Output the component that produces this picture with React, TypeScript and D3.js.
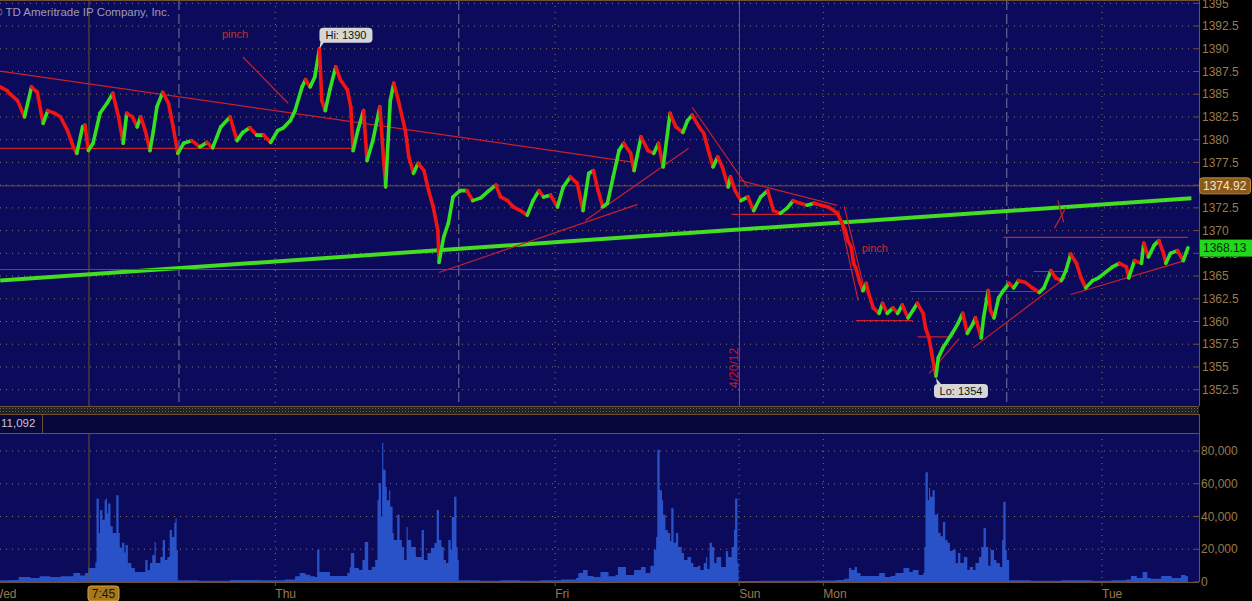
import * as d3 from "d3";

// hours since Wed 00:00 on the chart's compressed session clock
const priceHours = [
  0.1, 0.7, 0.9, 1.6, 2.2, 2.8, 3.3, 3.8, 4.2, 4.8, 5.3, 5.9, 6.4, 6.7, 7.2, 7.4, 7.7, 8.1, 8.7, 9.3,
  9.8, 10.3, 10.7, 11.0, 11.5, 11.9, 12.2, 12.6, 13.0, 13.3, 13.6, 14.1, 14.6, 15.0, 15.4, 15.9, 16.6, 17.3, 17.9, 18.4,
  19.1, 19.9, 20.5, 21.0, 21.6, 22.2, 22.8, 23.4, 24.0, 24.5, 25.1, 25.5, 26.1, 26.4, 26.8, 27.2, 27.6, 27.8, 28.1, 28.5,
  29.0, 29.4, 30.0, 30.3, 30.5, 30.9, 31.4, 31.7, 32.2, 32.8, 33.3, 33.7, 34.0, 34.4, 35.0, 35.3, 35.7, 36.1, 36.6, 37.0,
  37.4, 37.8, 37.9, 38.3, 38.7, 39.1, 39.7, 40.3, 40.8, 41.5, 42.2, 42.8, 43.2, 43.8, 44.3, 44.9, 45.5, 46.0, 46.5, 46.9,
  47.5, 48.1, 48.6, 49.2, 49.8, 50.3, 50.8, 51.2, 51.6, 52.0, 52.4, 52.9, 53.4, 53.8, 54.4, 54.7, 55.3, 55.9, 56.4, 56.8,
  57.2, 57.8, 58.3, 58.9, 59.3, 59.7, 60.3, 60.7, 61.1, 61.5, 61.9, 62.3, 62.8, 63.0, 63.4, 63.9, 64.5, 65.0, 65.6, 66.2,
  66.7, 67.3, 67.9, 68.4, 69.0, 69.6, 70.2, 70.8, 71.4, 71.9, 72.2, 72.5, 72.9, 73.1, 73.4, 73.6, 73.8, 74.1, 74.4, 74.7,
  74.9, 75.3, 75.8, 76.1, 76.5, 77.0, 77.4, 77.8, 78.3, 78.7, 79.1, 79.6, 79.8, 80.1, 80.4, 80.7, 80.9, 81.3, 81.7, 82.1,
  82.6, 83.0, 83.4, 83.9, 84.1, 84.6, 84.8, 85.2, 85.4, 85.7, 86.1, 86.5, 87.0, 87.4, 87.8, 88.4, 89.0, 89.6, 90.0, 90.6,
  91.0, 91.5, 91.9, 92.3, 92.8, 93.2, 93.6, 94.2, 94.7, 95.3, 95.9, 96.5, 97.1, 97.3, 97.8, 98.4, 98.6, 99.0, 99.5, 99.9,
  100.3, 100.5, 100.9, 101.5, 102.0, 102.4
];

const priceValues = [
  1385.8, 1385.4, 1385.1, 1384.3, 1382.5, 1385.8, 1385.2, 1381.8, 1383.2, 1382.9, 1382.5, 1381.0, 1379.2, 1378.5, 1381.4, 1381.6, 1378.8, 1379.6, 1382.9, 1384.0,
  1385.1, 1382.5, 1379.6, 1382.9, 1382.5, 1381.4, 1382.5, 1381.0, 1378.8, 1381.0, 1383.6, 1385.2, 1384.0, 1381.4, 1378.5, 1379.6, 1379.9, 1379.2, 1379.7, 1379.1,
  1381.4, 1382.5, 1379.9, 1380.8, 1381.3, 1380.5, 1380.5, 1379.7, 1381.0, 1381.3, 1382.1, 1383.2, 1385.8, 1386.6, 1385.8, 1386.9, 1390.0, 1384.3, 1383.2, 1385.5,
  1388.0, 1386.6, 1385.5, 1383.6, 1378.8, 1381.0, 1383.2, 1377.7, 1379.9, 1383.6, 1374.8, 1384.3, 1386.2, 1384.3, 1381.0, 1378.1, 1376.3, 1377.4, 1376.6, 1374.4,
  1372.6, 1370.0, 1366.5, 1369.3, 1370.8, 1373.7, 1374.4, 1374.4, 1373.3, 1373.6, 1374.4, 1375.0, 1373.7, 1373.3, 1372.6, 1372.2, 1371.7, 1373.3, 1374.4, 1373.7,
  1373.9, 1372.6, 1374.8, 1375.9, 1375.2, 1372.2, 1376.3, 1376.6, 1374.4, 1372.6, 1373.0, 1375.9, 1378.8, 1379.6, 1378.5, 1376.6, 1380.3, 1378.8, 1378.5, 1379.6,
  1377.0, 1382.9, 1381.4, 1380.8, 1382.1, 1382.7, 1381.4, 1380.7, 1378.8, 1377.0, 1378.1, 1377.0, 1374.8, 1375.9, 1374.4, 1373.3, 1373.7, 1372.2, 1373.7, 1374.4,
  1372.2, 1371.9, 1372.5, 1373.3, 1373.0, 1372.8, 1373.0, 1372.8, 1372.6, 1372.2, 1371.9, 1371.1, 1370.0, 1368.9, 1368.2, 1366.4, 1365.9, 1364.5, 1363.4, 1364.2,
  1363.1, 1361.5, 1360.9, 1362.0, 1360.9, 1361.5, 1360.9, 1361.8, 1360.4, 1361.2, 1362.0, 1360.9, 1359.3, 1358.2, 1356.0, 1354.0, 1356.0, 1357.1, 1357.9, 1358.7,
  1359.8, 1360.9, 1358.7, 1359.8, 1360.4, 1358.2, 1360.4, 1363.4, 1361.2, 1360.4, 1362.6, 1363.4, 1364.2, 1363.7, 1364.5, 1364.3, 1363.7, 1363.2, 1363.7, 1365.6,
  1364.8, 1364.5, 1365.6, 1367.4, 1366.4, 1364.8, 1363.7, 1364.5, 1364.8, 1365.4, 1366.0, 1366.4, 1366.0, 1364.8, 1366.7, 1366.4, 1368.6, 1367.1, 1368.4, 1368.9,
  1367.5, 1366.4, 1367.5, 1367.8, 1366.7, 1368.1
];

const volumeHours = [
  0.1, 0.9, 1.7, 2.7, 3.5, 4.4, 5.3, 6.4, 7.0, 7.4, 7.7, 8.3, 8.4, 8.6, 8.7, 8.9, 9.1, 9.2, 9.3, 9.4,
  9.6, 9.8, 10.1, 10.3, 10.4, 10.6, 10.8, 10.9, 11.1, 11.4, 11.7, 12.2, 12.6, 12.8, 13.0, 13.2, 13.4, 13.5, 13.9, 14.1,
  14.3, 14.5, 14.7, 14.9, 15.1, 15.2, 15.3, 15.4, 17.2, 19.9, 22.5, 24.6, 25.5, 25.9, 26.4, 26.8, 27.2, 27.4, 27.6, 28.5,
  29.4, 30.0, 30.2, 30.3, 30.6, 31.0, 31.3, 31.5, 31.8, 32.1, 32.4, 32.6, 32.7, 32.9, 33.0, 33.1, 33.3, 33.4, 33.6, 33.7,
  33.9, 34.0, 34.3, 34.5, 34.7, 34.9, 35.1, 35.2, 35.5, 35.9, 36.2, 36.4, 36.6, 36.9, 37.2, 37.5, 37.7, 37.9, 38.1, 38.3,
  38.5, 38.7, 38.9, 39.0, 39.2, 39.4, 39.5, 39.6, 41.4, 43.2, 44.9, 46.6, 48.4, 49.7, 49.9, 50.3, 50.7, 51.2, 51.8, 52.5,
  53.1, 53.3, 54.0, 54.7, 55.3, 55.7, 56.1, 56.4, 56.6, 56.7, 56.9, 57.1, 57.2, 57.4, 57.6, 57.8, 57.9, 58.1, 58.3, 58.5,
  58.8, 59.0, 59.3, 59.6, 59.8, 60.2, 60.4, 60.7, 60.9, 61.0, 61.2, 61.4, 61.6, 61.8, 62.2, 62.6, 62.8, 63.1, 63.3, 63.4,
  63.6, 63.7, 65.6, 68.2, 70.3, 72.1, 72.8, 73.2, 73.4, 73.7, 73.9, 74.2, 75.1, 75.8, 76.3, 76.8, 77.2, 77.9, 78.4, 78.7,
  79.2, 79.6, 79.7, 79.8, 80.0, 80.1, 80.2, 80.4, 80.6, 80.8, 80.9, 81.1, 81.3, 81.5, 81.7, 81.9, 82.1, 82.4, 82.6, 82.8,
  83.1, 83.4, 83.6, 83.9, 84.1, 84.4, 84.6, 84.8, 85.0, 85.2, 85.4, 85.7, 85.9, 86.2, 86.4, 86.5, 86.7, 86.8, 87.0, 88.9,
  91.5, 94.1, 95.8, 97.1, 97.5, 98.0, 98.5, 98.9, 99.2, 100.1, 101.0, 101.8, 102.2, 102.4
];

const volumeValues = [
  1000, 1200, 3000, 2500, 3500, 3000, 3500, 5500, 4000, 5500, 8500, 12000, 51000, 30000, 44000, 38000, 50000, 51000, 42000, 48000,
  34000, 30000, 53000, 30000, 21000, 24000, 18000, 22600, 11600, 8500, 6100, 6100, 13400, 7300, 11600, 16500, 24400, 11600, 15300, 25600,
  13400, 15300, 31800, 27500, 36000, 39000, 19500, 1000, 800, 1200, 1000, 1500, 3500, 5500, 4500, 3500, 3000, 19500, 6100, 3600,
  3600, 5500, 9000, 17700, 8500, 7300, 13400, 24400, 7300, 9100, 13400, 50000, 60500, 40000, 85000, 68500, 58000, 50000, 56000, 46000,
  30000, 25600, 41000, 25600, 21400, 13400, 33600, 25600, 21400, 15300, 15300, 31800, 13400, 17700, 20800, 23800, 44000, 25600, 21400, 13400,
  11600, 25600, 19500, 39700, 52000, 21400, 13400, 1000, 800, 1000, 700, 1000, 1500, 2500, 5500, 7300, 3600, 3000, 6100, 3500,
  4200, 9100, 4200, 7300, 9100, 5500, 10000, 19500, 27500, 80700, 56000, 50000, 41000, 31800, 30000, 25000, 45000, 24000, 30000, 21400,
  17700, 13400, 15300, 11600, 9100, 10000, 7300, 11600, 15300, 8000, 24000, 21400, 11600, 15300, 9100, 19000, 15300, 21400, 31800, 51000,
  11600, 600, 800, 700, 900, 1200, 2000, 8500, 7300, 9100, 5500, 3600, 3600, 5500, 3000, 3600, 5500, 8500, 6100, 7300,
  4200, 5500, 21400, 67000, 50000, 57400, 52000, 56000, 41000, 42000, 30000, 28000, 36600, 25600, 24000, 19000, 19500, 11600, 17700, 11600,
  15300, 7300, 9100, 7300, 11600, 15300, 21400, 33000, 21400, 10000, 19500, 13400, 11600, 9100, 25600, 49000, 19500, 13400, 1000, 800,
  1000, 800, 1000, 1500, 3600, 2500, 6100, 2500, 2000, 3600, 2500, 4200, 3600, 2000
];

const priceTickValues = [1352.5, 1355, 1357.5, 1360, 1362.5, 1365, 1367.5, 1370, 1372.5, 1375, 1377.5, 1380, 1382.5, 1385, 1387.5, 1390, 1392.5, 1395];
const volumeTickValues = [0, 20000, 40000, 60000, 80000];
const volumeTickLabels = ["0", "20,000", "40,000", "60,000", "80,000"];
const dayLabels = ["Wed", "Thu", "Fri", "Sun", "Mon", "Tue"];
const dayHours = [-0.6, 23.8, 47.9, 63.75, 71, 95];
const sessionEndHours = [15.5, 39.6, 86.8];

const cursorHour = 7.75;
const cursorLabel = "7:45";
const cursorPrice = 1374.92;
const cursorVolume = "11,092";
const lastPrice = 1368.13;
const hiHour = 27.6;
const hiPrice = 1390;
const loHour = 80.7;
const loPrice = 1354;
const markHour = 63.75;
const markLabel = "4/20/12";

// drawn study lines: [hour1, price1, hour2, price2]
const redLines = [
  [0.1, 1387.54, 54.7, 1377.51],
  [0.1, 1379.05, 30.5, 1379.05],
  [0.1, 1365.72, 73.6, 1365.72],
  [37.9, 1365.39, 55.0, 1372.89],
  [50.5, 1371.12, 59.4, 1379.06],
  [59.7, 1383.57, 64.5, 1374.76],
  [63.8, 1375.53, 72.2, 1372.78],
  [63.1, 1371.78, 72.1, 1371.78],
  [72.8, 1372.67, 74.6, 1363.19],
  [72.3, 1372.22, 74.0, 1362.31],
  [73.8, 1360.1, 78.7, 1360.1],
  [78.5, 1363.3, 89.7, 1363.3],
  [79.1, 1358.3, 82.2, 1358.3],
  [80.1, 1354.27, 82.7, 1358.12],
  [83.9, 1357.13, 91.9, 1364.84],
  [89.1, 1365.5, 92.1, 1365.5],
  [86.5, 1369.25, 102.4, 1369.25],
  [92.3, 1362.97, 102.2, 1366.72],
  [91.2, 1373.33, 91.7, 1370.9],
  [90.9, 1370.24, 91.9, 1372.56],
  [21.0, 1389.09, 24.9, 1384.01]
];
const greenLine = [0.1, 1364.51, 102.7, 1373.55];
const pinchNotes = [
  [19.2, 1391.2],
  [74.3, 1367.6]
];

const font = "'Liberation Sans', Arial, sans-serif";
const axisColor = "#9a7a4c";
const frameColor = "#6e5236";
const panelColor = "#0c0a5a";
const gridColor = "#857660";
const upColor = "#33e020";
const downColor = "#f01414";
const drawColor = "#c8202c";

export default function App() {
  const width = 1252;
  const height = 601;
  const plotRight = 1199;
  const priceBottom = 406;
  const headerTop = 414;
  const volTop = 433;
  const volBottom = 582;

  const x = d3.scaleLinear().domain([0, 95]).range([-1, 1102]);
  const yP = d3.scaleLinear().domain([1352.5, 1395]).range([389.7, 3.3]);
  const yV = d3.scaleLinear().domain([0, 80000]).range([volBottom, 451]);

  const volumeArea = d3
    .area<number>()
    .x((_, i) => x(volumeHours[i]))
    .y0(yV(0))
    .y1((v) => yV(v))
    .curve(d3.curveStepAfter)(volumeValues);

  const fmtPrice = (v: number) => (Number.isInteger(v) ? String(v) : v.toFixed(1));
  const hx = x(hiHour);
  const hy = yP(hiPrice);
  const lx = x(loHour);
  const ly = yP(loPrice);
  const markX = Math.round(x(markHour)) + 0.5;

  return (
    <div style={{ position: "fixed", left: 0, top: 0, width, height, background: "#000" }}>
      <svg width={width} height={height} style={{ display: "block" }} fontFamily={font}>
        <defs>
          <clipPath id="price-clip">
            <rect x={0} y={0} width={plotRight} height={priceBottom} />
          </clipPath>
          <clipPath id="vol-clip">
            <rect x={0} y={volTop} width={plotRight} height={volBottom - volTop} />
          </clipPath>
          <pattern id="hatch" width={3} height={3} patternUnits="userSpaceOnUse">
            <rect width={3} height={3} fill="#1c1c1c" />
            <rect width={1} height={1} fill="#6a6a6a" />
            <rect x={1.5} y={1.5} width={1} height={1} fill="#4a4a4a" />
          </pattern>
        </defs>
        <rect x={0} y={0} width={width} height={height} fill="#000" />

        {/* price panel */}
        <rect x={0} y={0} width={plotRight} height={priceBottom} fill={panelColor} />
        <g clipPath="url(#price-clip)">
          {priceTickValues.map((v) => (
            <line key={`pg-${v}`} x1={0} x2={plotRight - 8} y1={yP(v)} y2={yP(v)} stroke={gridColor} strokeDasharray="1 5" />
          ))}
          {dayHours.slice(1).map((h) => (
            <line key={`pv-${h}`} x1={x(h)} x2={x(h)} y1={0} y2={priceBottom} stroke={gridColor} strokeDasharray="1 5" />
          ))}
          {sessionEndHours.map((h) => (
            <line key={`se-${h}`} x1={x(h)} x2={x(h)} y1={0} y2={priceBottom} stroke="#9c9cb4" strokeOpacity={0.75} strokeDasharray="10 4" />
          ))}
          <line x1={x(cursorHour)} x2={x(cursorHour)} y1={0} y2={priceBottom} stroke={frameColor} />
          <line x1={0} x2={plotRight} y1={yP(cursorPrice)} y2={yP(cursorPrice)} stroke={frameColor} />
          <line x1={markX} x2={markX} y1={0} y2={priceBottom} stroke="#e0202a" />
          <text
            transform={`translate(${markX - 2},${yP(1354.9)}) rotate(-90)`}
            textAnchor="middle"
            fontSize={12}
            fill="#c81a1a"
          >
            {markLabel}
          </text>

          <line
            x1={x(greenLine[0])}
            y1={yP(greenLine[1])}
            x2={x(greenLine[2])}
            y2={yP(greenLine[3])}
            stroke="#44dd22"
            strokeWidth={4}
          />
          {redLines.map((l, i) => (
            <line key={`rl-${i}`} x1={x(l[0])} y1={yP(l[1])} x2={x(l[2])} y2={yP(l[3])} stroke={drawColor} strokeWidth={1.2} />
          ))}

          {priceValues.slice(1).map((v, i) => {
            const prev = priceValues[i];
            return (
              <line
                key={`ps-${i}`}
                x1={x(priceHours[i])}
                y1={yP(prev)}
                x2={x(priceHours[i + 1])}
                y2={yP(v)}
                stroke={v >= prev ? upColor : downColor}
                strokeWidth={3.6}
                strokeLinecap="round"
              />
            );
          })}

          {pinchNotes.map((p, i) => (
            <text key={`pn-${i}`} x={x(p[0])} y={yP(p[1])} fontSize={11} fill="#d02a2a">
              pinch
            </text>
          ))}

          <path d={`M${hx + 5},${hy - 7} L${hx},${hy} L${hx + 1},${hy - 7}`} fill="#d0d0d0" />
          <rect x={hx} y={hy - 21} width={53} height={15} rx={4} fill="#d6d6d6" />
          <text x={hx + 26.5} y={hy - 9.5} textAnchor="middle" fontSize={11} fill="#111">
            Hi: {hiPrice}
          </text>
          <path d={`M${lx + 5},${ly + 8} L${lx},${ly + 2} L${lx + 1},${ly + 8}`} fill="#d0d0d0" />
          <rect x={lx - 2} y={ly + 8} width={54} height={14} rx={4} fill="#d6d6d6" />
          <text x={lx + 25} y={ly + 19} textAnchor="middle" fontSize={11} fill="#111">
            Lo: {loPrice}
          </text>

          <text x={-6} y={16} fontSize={11.5} fill="#9c9cb0">
            © TD Ameritrade IP Company, Inc.
          </text>
        </g>
        <line x1={0} x2={plotRight} y1={0.5} y2={0.5} stroke={frameColor} />
        <line x1={plotRight + 0.5} x2={plotRight + 0.5} y1={0} y2={priceBottom} stroke={frameColor} />
        <line x1={0} x2={plotRight} y1={priceBottom + 0.5} y2={priceBottom + 0.5} stroke={frameColor} />

        {/* price axis */}
        {priceTickValues.map((v) => (
          <g key={`pt-${v}`}>
            <line x1={plotRight - 6} x2={plotRight} y1={yP(v)} y2={yP(v)} stroke={frameColor} />
            <text x={1202} y={yP(v)} dy="0.35em" fontSize={12} fill={axisColor}>
              {fmtPrice(v)}
            </text>
          </g>
        ))}
        <rect x={1199.5} y={yP(cursorPrice) - 8} width={51} height={16} rx={3} fill="#8a5a1a" stroke="#c08a3c" />
        <text x={1203} y={yP(cursorPrice)} dy="0.36em" fontSize={12} fill="#f2e6cc">
          {cursorPrice.toFixed(2)}
        </text>
        <rect x={1200} y={yP(lastPrice) - 8} width={52} height={17} fill="#22d81c" />
        <text x={1203} y={yP(lastPrice) + 0.5} dy="0.36em" fontSize={12} fill="#052a05">
          {lastPrice.toFixed(2)}
        </text>

        {/* separator and volume header */}
        <rect x={0} y={priceBottom + 1} width={plotRight} height={headerTop - priceBottom - 1} fill="url(#hatch)" />
        <line x1={0} x2={plotRight} y1={headerTop + 0.5} y2={headerTop + 0.5} stroke={frameColor} />
        <rect x={0} y={headerTop + 1} width={plotRight} height={volTop - headerTop - 1} fill="#07073a" />
        <line x1={42.5} x2={42.5} y1={headerTop} y2={volTop} stroke={frameColor} />
        <text x={1} y={headerTop + 13} fontSize={11.5} fill="#c8c8d0">
          {cursorVolume}
        </text>
        <line x1={plotRight + 0.5} x2={plotRight + 0.5} y1={headerTop} y2={volBottom} stroke={frameColor} />

        {/* volume panel */}
        <rect x={0} y={volTop} width={plotRight} height={volBottom - volTop} fill={panelColor} />
        <line x1={0} x2={plotRight} y1={volTop + 0.5} y2={volTop + 0.5} stroke={frameColor} />
        <g clipPath="url(#vol-clip)">
          {volumeTickValues.slice(1).map((v) => (
            <line key={`vg-${v}`} x1={0} x2={plotRight - 8} y1={yV(v)} y2={yV(v)} stroke={gridColor} strokeDasharray="1 5" />
          ))}
          {dayHours.slice(1).map((h) => (
            <line key={`vv-${h}`} x1={x(h)} x2={x(h)} y1={volTop} y2={volBottom} stroke={gridColor} strokeDasharray="1 5" />
          ))}
          <path d={volumeArea ?? ""} fill="#2a52c8" />
          <line x1={x(cursorHour)} x2={x(cursorHour)} y1={volTop} y2={volBottom} stroke={frameColor} />
        </g>
        <line x1={0} x2={plotRight} y1={volBottom + 0.5} y2={volBottom + 0.5} stroke={frameColor} />
        {volumeTickValues.map((v, i) => (
          <g key={`vt-${v}`}>
            <line x1={plotRight - 6} x2={plotRight} y1={yV(v)} y2={yV(v)} stroke={frameColor} />
            <text x={1201} y={yV(v)} dy="0.35em" fontSize={12} fill={axisColor}>
              {volumeTickLabels[i]}
            </text>
          </g>
        ))}

        {/* time axis */}
        {dayLabels.map((d, i) => (
          <g key={`dl-${d}`}>
            <line x1={x(dayHours[i])} x2={x(dayHours[i])} y1={volBottom} y2={volBottom + 4} stroke={frameColor} />
            <text x={x(dayHours[i])} y={598} fontSize={12} fill={axisColor}>
              {d}
            </text>
          </g>
        ))}
        <rect x={x(cursorHour) - 1} y={586} width={31} height={15} rx={3} fill="#a8781e" stroke="#d4a042" />
        <text x={x(cursorHour) + 14.5} y={598} textAnchor="middle" fontSize={12} fill="#1e1404">
          {cursorLabel}
        </text>
      </svg>
    </div>
  );
}
